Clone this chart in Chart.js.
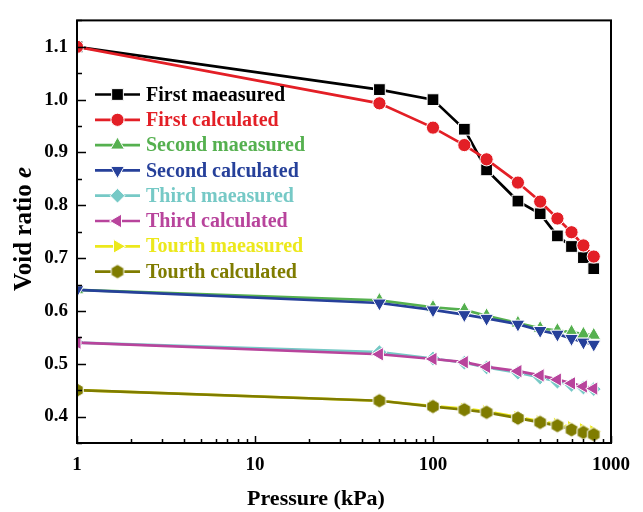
<!DOCTYPE html>
<html>
<head>
<meta charset="utf-8">
<script src="https://cdn.jsdelivr.net/npm/chart.js@4.4.0/dist/chart.umd.min.js"></script>
<style>
  html, body { margin: 0; padding: 0; background: #fff; }
  #wrap { width: 643px; height: 512px; }
</style>
</head>
<body>
<div id="wrap"><canvas id="myChart" width="643" height="512"></canvas></div>
<script>
const pressures = [1, 50, 100, 150, 200, 300, 400, 500, 600, 700, 800];
const firstMeasured = [1.10, 1.019, 1.00, 0.944, 0.867, 0.808, 0.784, 0.742, 0.722, 0.701, 0.680];
const firstCalculated = [1.10, 0.993, 0.947, 0.914, 0.887, 0.843, 0.807, 0.775, 0.749, 0.724, 0.703];
const secondMeasured = [0.64, 0.620, 0.607, 0.602, 0.591, 0.577, 0.567, 0.563, 0.560, 0.556, 0.554];
const secondCalculated = [0.64, 0.615, 0.602, 0.593, 0.586, 0.575, 0.563, 0.556, 0.548, 0.541, 0.537];
const thirdMeasured = [0.54, 0.522, 0.510, 0.502, 0.493, 0.483, 0.474, 0.466, 0.460, 0.455, 0.452];
const thirdCalculated = [0.54, 0.518, 0.509, 0.503, 0.494, 0.486, 0.478, 0.470, 0.463, 0.457, 0.453];
const fourthMeasured = [0.45, 0.430, 0.420, 0.415, 0.410, 0.399, 0.391, 0.386, 0.380, 0.376, 0.372];
const fourthCalculated = [0.45, 0.430, 0.419, 0.413, 0.408, 0.397, 0.389, 0.383, 0.375, 0.370, 0.366];

const seriesNames = ['First maeasured', 'First calculated', 'Second maeasured', 'Second calculated',
                     'Third maeasured', 'Third calculated', 'Tourth maeasured', 'Tourth calculated'];
const xTicks = [1, 10, 100, 1000];
const yTicks = [0.4, 0.5, 0.6, 0.7, 0.8, 0.9, 1.0, 1.1];

const serif = '"Liberation Serif", "Times New Roman", serif';

// hexagon marker (no built-in one)
function hexagon(color, size) {
    const c = document.createElement('canvas');
    c.width = size; c.height = size;
    const g = c.getContext('2d');
    const r = size / 2 - 0.8;
    g.beginPath();
    for (let i = 0; i < 6; i++) {
        const a = Math.PI / 3 * i - Math.PI / 2;
        const px = size / 2 + r * Math.cos(a), py = size / 2 + r * Math.sin(a);
        if (i === 0) g.moveTo(px, py); else g.lineTo(px, py);
    }
    g.closePath();
    g.fillStyle = color;
    g.fill();
    g.strokeStyle = '#ffffff';
    g.lineWidth = 1;
    g.stroke();
    return c;
}
const hexImg = hexagon('#7f7c00', 16);

const values = [firstMeasured, firstCalculated, secondMeasured, secondCalculated,
                thirdMeasured, thirdCalculated, fourthMeasured, fourthCalculated];
const colors = ['#000000', '#e31f26', '#55b04f', '#26409a', '#76c9c6', '#b8449c', '#ece81c', '#7f7c00'];
const styles = ['rect', 'circle', 'triangle', 'triangle', 'rectRot', 'triangle', 'triangle', hexImg];
const rotations = [0, 0, 0, 180, 0, 270, 90, 0];
const radii = [8.3, 6.6, 8, 8, 7.4, 8, 8, 7.5];

const datasets = values.map((vals, i) => ({
    label: seriesNames[i],
    data: pressures.map((p, j) => ({ x: p, y: vals[j] })),
    borderColor: colors[i],
    backgroundColor: colors[i],
    borderWidth: 2.7,
    pointStyle: styles[i],
    pointRotation: rotations[i],
    pointRadius: radii[i],
    pointBorderColor: '#ffffff',
    pointBorderWidth: 1,
    pointBackgroundColor: colors[i],
    order: values.length - 1 - i,
    clip: 0,
    fill: false
}));

// frame, inward ticks, titles, legend
const decor = {
    id: 'decor',
    afterDraw(chart) {
        const ctx = chart.ctx;
        const a = chart.chartArea;
        const xs = chart.scales.x, ys = chart.scales.y;
        ctx.save();
        ctx.strokeStyle = '#000';
        ctx.lineWidth = 2;
        ctx.strokeRect(a.left, a.top, a.right - a.left, a.bottom - a.top);

        ctx.lineWidth = 1.5;
        ctx.beginPath();
        for (let v = 0.35; v <= 1.151; v += 0.05) {
            const y = Math.round(ys.getPixelForValue(v)) + 0.5;
            const major = yTicks.some(t => Math.abs(t - v) < 1e-6);
            ctx.moveTo(a.left, y);
            ctx.lineTo(a.left + (major ? 9 : 5), y);
        }
        for (let d = 1; d <= 100; d *= 10) {
            for (let k = 1; k <= 10; k++) {
                const x = Math.round(xs.getPixelForValue(d * k)) + 0.5;
                const major = (k === 1 || k === 10);
                ctx.moveTo(x, a.bottom);
                ctx.lineTo(x, a.bottom - (major ? 7 : 4));
            }
        }
        ctx.stroke();

        // axis titles
        ctx.fillStyle = '#000';
        ctx.textBaseline = 'middle';
        ctx.textAlign = 'center';
        ctx.font = 'bold 22px ' + serif;
        ctx.fillText('Pressure (kPa)', 316, 499);

        ctx.save();
        ctx.translate(25, 229);
        ctx.rotate(-Math.PI / 2);
        const t1 = 'Void ratio ';
        ctx.font = 'bold 25px ' + serif;
        const w1 = ctx.measureText(t1).width;
        ctx.font = 'italic bold 25px ' + serif;
        const w2 = ctx.measureText('e').width;
        ctx.textAlign = 'left';
        ctx.font = 'bold 25px ' + serif;
        ctx.fillText(t1, -(w1 + w2) / 2, 0);
        ctx.font = 'italic bold 25px ' + serif;
        ctx.fillText('e', -(w1 + w2) / 2 + w1, 0);
        ctx.restore();

        // legend
        const lx0 = 95, lx1 = 140, lm = 117.5, tx = 146;
        chart.data.datasets.forEach((ds, i) => {
            const y = 94.5 + i * 25.3;
            ctx.strokeStyle = ds.borderColor;
            ctx.lineWidth = 2.7;
            ctx.beginPath();
            ctx.moveTo(lx0, y); ctx.lineTo(lx1, y);
            ctx.stroke();
            ctx.fillStyle = ds.borderColor;
            ctx.strokeStyle = '#ffffff';
            ctx.lineWidth = 1;
            Chart.helpers.drawPoint(ctx, {
                pointStyle: ds.pointStyle, rotation: ds.pointRotation,
                radius: ds.pointRadius, borderWidth: 1
            }, lm, y);
            ctx.fillStyle = ds.borderColor;
            ctx.font = 'bold 20px ' + serif;
            ctx.textAlign = 'left';
            ctx.textBaseline = 'middle';
            ctx.fillText(ds.label, tx, y + 1);
        });
        ctx.restore();
    }
};

const ctx = document.getElementById('myChart').getContext('2d');
const myChart = new Chart(ctx, {
    type: 'line',
    data: { datasets: datasets },
    options: {
        responsive: false,
        animation: false,
        layout: { padding: { top: 14, right: 32, bottom: 0, left: 0 } },
        plugins: { legend: { display: false }, tooltip: { enabled: false } },
        scales: {
            x: {
                type: 'logarithmic',
                min: 1,
                max: 1000,
                afterBuildTicks: s => { s.ticks = xTicks.map(v => ({ value: v })); },
                afterFit: s => { s.height = 69; },
                grid: { display: false, drawTicks: false },
                border: { display: false },
                ticks: {
                    color: '#000',
                    padding: 11,
                    maxRotation: 0,
                    font: { family: serif, size: 19, weight: 'bold' },
                    callback: v => String(v)
                }
            },
            y: {
                type: 'linear',
                min: 0.35,
                max: 1.15,
                afterBuildTicks: s => { s.ticks = yTicks.map(v => ({ value: v })); },
                afterFit: s => { s.width = 77; },
                grid: { display: false, drawTicks: false },
                border: { display: false },
                ticks: {
                    color: '#000',
                    padding: 9,
                    font: { family: serif, size: 19, weight: 'bold' },
                    callback: v => Number(v).toFixed(1)
                }
            }
        }
    },
    plugins: [decor]
});
</script>
</body>
</html>
